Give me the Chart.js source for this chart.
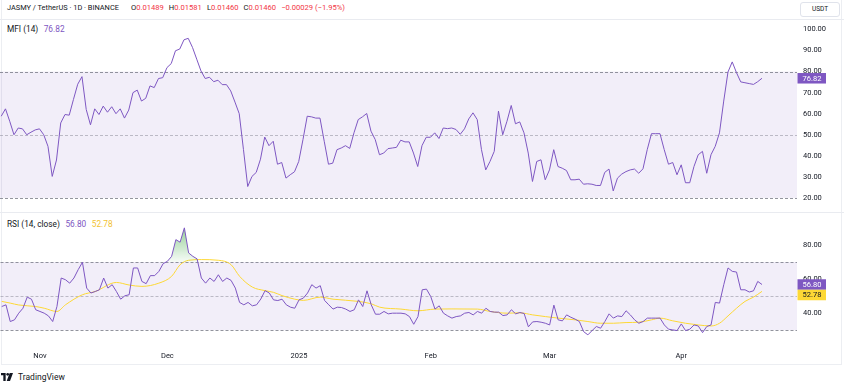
<!DOCTYPE html>
<html>
<head>
<meta charset="utf-8">
<script src="https://cdn.jsdelivr.net/npm/chart.js@4.4.1/dist/chart.umd.min.js"></script>
<style>
    body { margin: 0; width: 844px; height: 382px; background: #fff; position: relative; overflow: hidden;
           font-family: Roboto, 'Noto Sans', sans-serif; color: #131722; }
    .abs { position: absolute; }
    #frame { left: 1px; top: 0; width: 841px; height: 365px; border: 1px solid #eceef2; border-top: none; box-sizing: border-box; }
    .sep { left: 0; width: 844px; height: 1px; background: #e9ebf0; }
    #header { left: 7px; top: 3px; font-size: 7.6px; line-height: 9px; white-space: nowrap; }
    #header .dn { color: #f23645; margin-right: 5px; }
    #header .sym { display: inline-block; width: 124px; font-size: 7.4px; }
    #usdt { left: 800px; top: 2px; width: 40px; height: 15px; border: 1px solid #e0e3eb; border-radius: 3px;
            box-sizing: border-box; font-size: 6.5px; line-height: 13px; text-align: center; }
    .title { left: 7px; font-size: 8.3px; line-height: 10px; white-space: nowrap; }
    .title .v1 { color: #7e57c2; margin-left: 5.5px; }
    .title .v2 { color: #f2c230; margin-left: 5.5px; }
    #logo { left: 1px; top: 372px; font-size: 8.5px; display: flex; align-items: center; }
    #logo span { margin-left: 5px; }
</style>
</head>
<body>
<div id="frame" class="abs"></div>
<div class="abs sep" style="top:19px"></div>
<div class="abs sep" style="top:212px"></div>
<div id="header" class="abs"><span class="sym">JASMY / TetherUS · 1D · BINANCE</span>O<span class="dn">0.01489</span>H<span class="dn">0.01581</span>L<span class="dn">0.01460</span>C<span class="dn">0.01460</span><span class="dn">−0.00029 (−1.95%)</span></div>
<div id="usdt" class="abs">USDT</div>
<div class="abs title" style="top:24px">MFI (14)<span class="v1">76.82</span></div>
<div class="abs title" style="top:219px">RSI (14, close)<span class="v1">56.80</span><span class="v2">52.78</span></div>
<canvas id="mfiChart" class="abs" style="left:0;top:20px" width="844" height="192"></canvas>
<canvas id="rsiChart" class="abs" style="left:0;top:213px" width="844" height="152"></canvas>
<div id="logo" class="abs">
    <svg width="12" height="8" viewBox="0 0 36 24"><path d="M0 0h14v24H7V7H0z" fill="#131722"/><circle cx="20" cy="4" r="4" fill="#131722"/><path d="M26 0h10l-9 24H17z" fill="#131722"/></svg>
    <span>TradingView</span>
</div>

<script>
// ============================================================
// JASMY / TetherUS 1D - MFI (14) and RSI (14) panes
// ============================================================

// x values are days counted from 1 Nov 2024; first bar is 23 Oct 2024
const FIRST_DAY = -9;
const monthTickDays = [0, 30, 61, 92, 120, 151];
const monthTickLabels = ['Nov', 'Dec', '2025', 'Feb', 'Mar', 'Apr'];

const mfiTicks = [20, 30, 40, 50, 60, 70, 80, 90, 100];
const rsiTicks = [40, 60, 80];

const mfiValues = [
    58.8, 62.3, 56.4, 50.0, 53.2, 52.8, 50.0, 51.2, 52.3,
    52.8, 50.0, 44.5, 30.2, 38.0, 55.6, 59.6, 59.3, 66.8, 74.0,
    77.6, 62.0, 54.7, 62.3, 59.6, 63.6, 60.7, 63.3, 60.0, 62.3,
    57.9, 61.7, 70.0, 71.2, 66.0, 67.3, 73.2, 72.4, 76.7, 77.1,
    81.9, 83.8, 89.9, 90.7, 95.1, 95.8, 91.5, 85.9, 80.3, 76.7,
    77.3, 75.2, 75.9, 73.8, 73.8, 70.8, 65.5, 60.0, 42.9, 25.4,
    30.2, 32.1, 38.4, 48.9, 44.8, 46.9, 36.0, 36.8, 29.4, 31.0,
    32.4, 37.3, 47.7, 58.8, 58.5, 57.9, 57.9, 46.9, 36.0, 36.5,
    42.9, 43.7, 44.8, 43.5, 50.9, 57.2, 58.5, 60.1, 51.7, 47.7,
    40.5, 41.3, 43.4, 43.7, 44.0, 47.4, 46.6, 46.6, 41.3, 34.9,
    44.8, 48.8, 48.8, 50.9, 48.2, 53.2, 52.9, 53.2, 52.5, 50.2,
    52.8, 57.5, 60.4, 57.2, 42.9, 33.3, 37.3, 42.1, 61.2, 50.0,
    56.4, 63.9, 55.2, 56.1, 50.9, 41.3, 27.8, 37.3, 38.1, 28.6,
    33.3, 42.9, 34.9, 34.1, 33.0, 28.6, 28.6, 28.9, 26.5, 26.7,
    26.5, 25.9, 25.9, 32.1, 33.7, 23.3, 29.4, 31.3, 32.5, 33.3,
    33.7, 31.7, 33.8, 42.9, 50.5, 50.5, 50.5, 42.9, 36.0, 36.8,
    31.0, 35.7, 27.2, 27.2, 34.9, 40.5, 42.1, 31.7, 40.5, 44.5,
    50.9, 66.0, 79.8, 84.6, 79.5, 75.1, 74.7, 74.3, 73.9, 75.2,
    76.82
];

const rsiValues = [
    43.9, 44.9, 35.1, 36.1, 40.0, 42.9, 49.4, 48.2, 42.0,
    41.0, 40.0, 38.4, 35.1, 43.9, 60.6, 59.6, 57.6, 60.6, 65.5,
    69.8, 54.7, 51.8, 52.7, 53.7, 60.6, 54.7, 56.7, 52.7, 48.2,
    50.2, 50.8, 66.5, 66.5, 58.6, 57.3, 62.0, 62.0, 64.5, 69.0,
    70.4, 73.3, 83.1, 81.6, 90.0, 75.3, 73.3, 71.8, 60.6, 57.6,
    60.6, 58.6, 62.5, 58.6, 60.6, 59.2, 54.7, 46.3, 44.9, 46.3,
    44.3, 44.9, 48.3, 53.2, 51.8, 47.8, 47.4, 48.2, 44.9, 43.5,
    42.9, 47.8, 48.8, 51.8, 56.7, 54.7, 56.1, 47.5, 44.9, 42.4,
    43.5, 43.3, 42.4, 41.0, 42.0, 47.8, 43.9, 53.1, 44.9, 39.4,
    39.4, 41.0, 39.6, 40.0, 40.0, 40.0, 39.6, 38.0, 33.5, 38.0,
    53.7, 54.1, 49.8, 42.4, 44.3, 40.0, 38.4, 37.1, 38.0, 38.4,
    40.0, 40.4, 39.0, 41.0, 40.0, 42.9, 41.0, 40.6, 40.6, 38.6,
    39.0, 42.0, 39.6, 40.4, 39.8, 32.0, 34.9, 35.1, 34.7, 34.1,
    33.1, 44.7, 36.1, 35.5, 39.0, 37.6, 36.5, 35.1, 29.2, 27.3,
    29.8, 32.2, 31.2, 35.1, 39.6, 37.1, 38.4, 38.0, 41.4, 39.0,
    36.1, 34.1, 35.1, 37.1, 37.1, 37.1, 37.1, 33.1, 30.6, 30.2,
    29.8, 33.7, 29.8, 30.6, 33.1, 32.5, 28.6, 32.2, 33.1, 46.3,
    45.9, 56.7, 66.5, 64.5, 64.1, 53.7, 53.7, 52.4, 53.1, 58.6,
    56.80
];

// RSI-based moving average, read at the turning points of the smooth curve
const rsiMaDays = [
    -9, -7, -5, -1, 1, 4, 6, 10, 13, 18, 21, 24, 28, 31, 33, 35, 38, 42, 45, 47,
    50, 53, 55, 57, 60, 62, 66, 69, 75, 78, 80, 85, 89, 93, 97, 103, 106, 110, 113, 116,
    119, 122, 126, 129, 132, 135, 138, 141, 144, 146, 149, 152, 155, 158, 160, 162, 164, 166, 168, 170
];
const rsiMaValues = [
    46.9, 45.9, 44.8, 43.9, 42.9, 41.0, 44.9, 50.8, 52.7, 58.0, 56.5, 55.7, 57.6, 61.6, 68.4, 71.0, 71.4, 71.0, 68.4, 61.6,
    55.3, 53.2, 52.2, 50.3, 48.2, 47.5, 49.4, 48.2, 46.9, 45.5, 43.5, 42.4, 41.4, 42.4, 42.5, 42.4, 41.0, 40.0, 40.2, 39.0,
    38.0, 37.1, 36.1, 35.1, 34.1, 34.1, 34.5, 34.7, 36.1, 37.1, 35.5, 34.1, 33.1, 32.5, 34.1, 38.4, 42.9, 46.9, 49.4, 52.78
];

// ------------------------------------------------------------
// Shared look
// ------------------------------------------------------------
const PURPLE = '#7e57c2';
const YELLOW = '#fdd835';
const X_MIN = -9.29;
const X_MAX = 178.24;

Chart.defaults.font.family = 'Roboto, "Noto Sans", sans-serif';
Chart.defaults.font.size = 7.5;
Chart.defaults.color = '#131722';

const toPoints = (values) => values.map((v, i) => ({ x: FIRST_DAY + i, y: v }));

// Background band + dashed guide lines for an oscillator pane
const paneGuides = {
    id: 'paneGuides',
    beforeDatasetsDraw(chart, args, opts) {
        const { ctx, chartArea: { left, right } } = chart;
        const y = chart.scales.y;
        const top = y.getPixelForValue(opts.upper);
        const bottom = y.getPixelForValue(opts.lower);
        ctx.save();
        ctx.fillStyle = 'rgba(126, 87, 194, 0.1)';
        ctx.fillRect(left, top, right - left, bottom - top);
        ctx.lineWidth = 1;
        ctx.setLineDash([3, 2]);
        const line = (v, color) => {
            const py = Math.round(y.getPixelForValue(v)) + 0.5;
            ctx.strokeStyle = color;
            ctx.beginPath();
            ctx.moveTo(left, py);
            ctx.lineTo(right, py);
            ctx.stroke();
        };
        line(opts.upper, 'rgba(120, 123, 134, 0.8)');
        line(opts.middle, 'rgba(120, 123, 134, 0.45)');
        line(opts.lower, 'rgba(120, 123, 134, 0.8)');
        ctx.restore();
    }
};

// Coloured last-value tags on the price axis
const lastValueTags = {
    id: 'lastValueTags',
    afterDraw(chart, args, opts) {
        const { ctx, chartArea } = chart;
        const h = 10.5;
        let prevBottom = -Infinity;
        ctx.save();
        ctx.font = '7.5px Roboto, "Noto Sans", sans-serif';
        ctx.textBaseline = 'middle';
        ctx.textAlign = 'center';
        opts.tags.forEach(tag => {
            const meta = chart.getDatasetMeta(tag.dataset);
            const last = meta.data[meta.data.length - 1];
            const value = chart.data.datasets[tag.dataset].data.at(-1).y;
            let top = last.y - h / 2;
            if (top < prevBottom) top = prevBottom;
            ctx.fillStyle = tag.bg;
            ctx.fillRect(chartArea.right + 0.5, top, 28.5, h);
            ctx.fillStyle = tag.fg;
            ctx.fillText(value.toFixed(2), chartArea.right + 15, top + h / 2 + 0.5);
            prevBottom = top + h;
        });
        ctx.restore();
    }
};

function rightAxis(min, max, ticks) {
    return {
        position: 'right',
        min, max,
        grid: { display: false, drawTicks: false },
        border: { display: false },
        ticks: { padding: 6, callback: v => v.toFixed(2) },
        afterBuildTicks: axis => { axis.ticks = ticks.map(v => ({ value: v })); },
        afterFit: axis => { axis.width = 47; axis.paddingTop = 0; axis.paddingBottom = 0; }
    };
}

const lineStyle = { borderWidth: 1, pointRadius: 0, tension: 0 };

// ------------------------------------------------------------
// MFI pane
// ------------------------------------------------------------
new Chart(document.getElementById('mfiChart'), {
    type: 'line',
    data: {
        datasets: [{ data: toPoints(mfiValues), borderColor: PURPLE, ...lineStyle }]
    },
    options: {
        responsive: false,
        animation: false,
        events: [],
        layout: { padding: 0 },
        plugins: {
            legend: { display: false },
            tooltip: { enabled: false },
            paneGuides: { lower: 20, middle: 50, upper: 80 },
            lastValueTags: { tags: [{ dataset: 0, bg: PURPLE, fg: '#fff' }] }
        },
        scales: {
            x: { type: 'linear', min: X_MIN, max: X_MAX, display: false },
            y: rightAxis(13.3, 104.5, mfiTicks)
        }
    },
    plugins: [paneGuides, lastValueTags]
});

// ------------------------------------------------------------
// RSI pane
// ------------------------------------------------------------
const rsiChart = new Chart(document.getElementById('rsiChart'), {
    type: 'line',
    data: {
        datasets: [
            {
                data: toPoints(rsiValues),
                borderColor: PURPLE,
                ...lineStyle,
                fill: { target: { value: 70 }, above: 'rgba(76, 175, 80, 0.35)', below: 'transparent' }
            },
            {
                data: rsiMaDays.map((d, i) => ({ x: d, y: rsiMaValues[i] })),
                borderColor: YELLOW,
                borderWidth: 1,
                pointRadius: 0,
                cubicInterpolationMode: 'monotone'
            }
        ]
    },
    options: {
        responsive: false,
        animation: false,
        events: [],
        layout: { padding: 0 },
        plugins: {
            legend: { display: false },
            tooltip: { enabled: false },
            paneGuides: { lower: 30, middle: 50, upper: 70 },
            lastValueTags: {
                tags: [
                    { dataset: 0, bg: PURPLE, fg: '#fff' },
                    { dataset: 1, bg: YELLOW, fg: '#131722' }
                ]
            }
        },
        scales: {
            x: {
                type: 'linear',
                min: X_MIN,
                max: X_MAX,
                grid: { display: false, drawTicks: false },
                border: { display: false },
                ticks: {
                    padding: 6.5,
                    maxRotation: 0,
                    callback: v => monthTickLabels[monthTickDays.indexOf(v)]
                },
                afterBuildTicks: axis => { axis.ticks = monthTickDays.map(v => ({ value: v })); },
                afterFit: axis => { axis.height = 20; axis.paddingLeft = 0; axis.paddingRight = 0; }
            },
            y: rightAxis(21.35, 98.41, rsiTicks)
        }
    },
    plugins: [paneGuides, lastValueTags]
});

// green gradient for the overbought part, built from the pane's own scale
const ys = rsiChart.scales.y;
const grad = rsiChart.ctx.createLinearGradient(0, ys.getPixelForValue(90), 0, ys.getPixelForValue(70));
grad.addColorStop(0, 'rgba(76, 175, 80, 0.6)');
grad.addColorStop(1, 'rgba(76, 175, 80, 0.05)');
rsiChart.data.datasets[0].fill.above = grad;
rsiChart.update('none');
</script>
</body>
</html>
